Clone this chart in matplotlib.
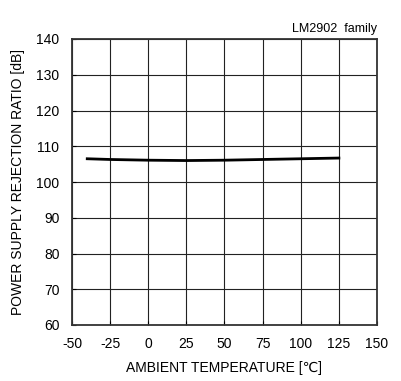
import matplotlib
matplotlib.use('Agg')
import matplotlib.pyplot as plt

plt.rcParams['font.family'] = ['Liberation Sans', 'DejaVu Sans']
plt.rcParams['axes.unicode_minus'] = False

# ambient temperature vs PSRR
temp = [-40, -25, 0, 25, 50, 75, 100, 125]
psrr = [106.5, 106.3, 106.1, 106.0, 106.1, 106.3, 106.5, 106.7]

xticks = [-50, -25, 0, 25, 50, 75, 100, 125, 150]
yticks = [60, 70, 80, 90, 100, 110, 120, 130, 140]

fig = plt.figure(figsize=(4.02, 3.81), dpi=100)
ax = fig.add_axes([72/402, 1 - 325/381, 305/402, 286/381])

ax.plot(temp, psrr, color='black', lw=2)

ax.set_xlim(-50, 150)
ax.set_ylim(60, 140)
ax.set_xticks(xticks)
ax.set_yticks(yticks)
ax.grid(True, color='#222222', lw=0.8)
ax.tick_params(direction='in', length=3, labelsize=10)
ax.tick_params(axis='x', pad=9)
ax.tick_params(axis='y', pad=9)
for s in ax.spines.values():
    s.set_linewidth(1.3)
    s.set_color('#333333')

ax.set_xlabel('AMBIENT TEMPERATURE [\u2103]', fontsize=10, labelpad=7)
ax.set_ylabel('POWER SUPPLY REJECTION RATIO [dB]', fontsize=10, labelpad=8)
fig.text(377/402, 1 - 29/381, 'LM2902  family', ha='right', va='center', fontsize=9)

fig.savefig('out.png', dpi=100)
